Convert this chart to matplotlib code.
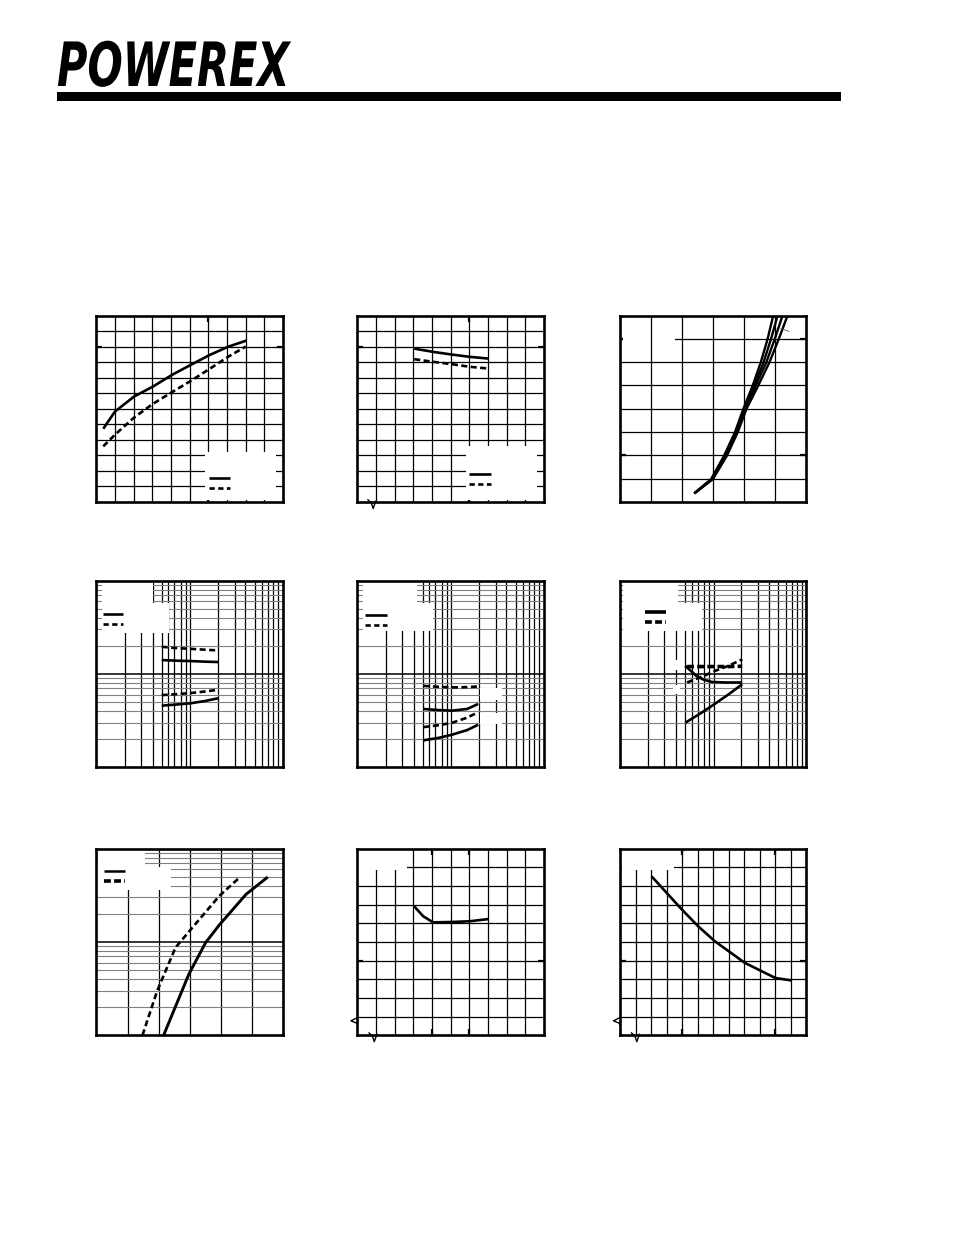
import matplotlib.pyplot as plt
from matplotlib.patches import Rectangle
from matplotlib.patheffects import AbstractPathEffect
from matplotlib.transforms import Affine2D

# ---- chart data (in each chart's own units) ----
# chart 1 (linear, 10 x 12 grid)
c1_x_solid = [0.36, 0.99, 2.02, 3.03, 4.05, 5.05, 6.07, 7.08, 8.05]
c1_y_solid = [4.71, 5.82, 6.79, 7.43, 8.18, 8.82, 9.46, 10.0, 10.39]
c1_x_dash = [0.36, 0.99, 2.02, 3.03, 4.05, 5.05, 6.07, 7.08, 8.0]
c1_y_dash = [3.58, 4.33, 5.44, 6.32, 7.07, 7.79, 8.57, 9.36, 10.0]

# chart 2 (linear, 10 x 12 grid)
c2_x = [3.04, 4.05, 5.04, 6.02, 7.0]
c2_y_solid = [9.87, 9.66, 9.49, 9.34, 9.23]
c2_y_dash = [9.19, 9.02, 8.87, 8.70, 8.59]

# chart 3 (linear, 6 x 8 grid), four forward curves
c3_y = [0.37, 0.98, 1.99, 3.0, 4.0, 5.0, 6.0, 7.0, 8.0]
c3_x_a = [2.39, 2.93, 3.35, 3.70, 3.97, 4.27, 4.53, 4.75, 4.93]
c3_x_b = [2.39, 2.95, 3.38, 3.73, 4.00, 4.32, 4.62, 4.86, 5.07]
c3_x_c = [2.39, 2.97, 3.41, 3.76, 4.03, 4.37, 4.71, 4.98, 5.23]
c3_x_d = [2.39, 2.99, 3.44, 3.79, 4.07, 4.45, 4.81, 5.11, 5.39]

# log-log charts (row 2): x from 1 to 1000, y from 0.1 to 10
logx_grid = [2.84, 5.16, 8.02, 11.2, 14.3, 17.9, 22.8, 27.4, 32.0,
             90, 166, 249, 352, 461, 574, 703, 840]
logy_minor = [0.2, 0.3, 0.4, 0.5, 0.6, 0.7, 0.8, 0.9,
              2, 3, 4, 5, 6, 7, 8, 9]

c4_x = [11.2, 18, 32, 55, 90]
c4_dash_hi = [1.957, 1.90, 1.86, 1.82, 1.787]
c4_solid_hi = [1.41, 1.39, 1.375, 1.355, 1.342]
c4_dash_lo = [0.593, 0.605, 0.623, 0.648, 0.676]
c4_solid_lo = [0.457, 0.468, 0.484, 0.512, 0.548]

c5_x = [11.5, 20, 33, 58, 87]
c5_dash_hi = [0.745, 0.728, 0.717, 0.722, 0.734]
c5_solid_hi = [0.421, 0.410, 0.404, 0.421, 0.476]
c5_dash_lo = [0.269, 0.282, 0.299, 0.340, 0.388]
c5_solid_lo = [0.194, 0.206, 0.223, 0.250, 0.285]

c6_x_fall = [11.2, 14, 17, 22, 30, 50, 92]
c6_y_fall = [1.22, 1.07, 0.95, 0.87, 0.82, 0.81, 0.81]
c6_x_rise = [11.2, 20, 30.4, 55, 92.7]
c6_y_rise = [0.299, 0.38, 0.457, 0.60, 0.777]
c6_x_dflat = [12, 20, 30, 55, 92.7]
c6_y_dflat = [1.20, 1.20, 1.20, 1.20, 1.21]
c6_x_drise = [12, 23.6, 30.4, 55, 92.7]
c6_y_drise = [0.81, 0.968, 1.05, 1.22, 1.433]

# chart 7 (linear x 0..6, log y 0.1..10)
c7_x_dash = [1.48, 1.95, 2.54, 3.08, 3.95, 4.62]
c7_y_dash = [0.1, 0.298, 0.869, 1.42, 3.11, 4.97]
c7_x_solid = [2.16, 2.97, 3.51, 3.95, 4.81, 5.51]
c7_y_solid = [0.1, 0.45, 0.983, 1.52, 3.24, 4.97]

# chart 8 (linear, 10 x 10 grid)
c8_x = [3.04, 3.52, 4.05, 5.04, 6.02, 7.04]
c8_y = [6.91, 6.38, 6.05, 6.07, 6.11, 6.23]

# chart 9 (linear, 12 x 10 grid)
c9_x = [2.03, 3.99, 5.03, 6.10, 8.03, 9.99, 11.07]
c9_y = [8.52, 6.73, 5.84, 5.04, 3.88, 3.07, 2.93]

W, H = 954, 1235
COLS = [96.5, 357.5, 620]
ROWS = [315.5, 580.7, 848.7]
SIZE = 186.5
LW = 1.9
DASH = (0, (2.3, 1.3))
LEG_DASH = (0, (2.0, 1.3))
THICK_DASH = (0, (1.9, 0.9))


class Squeeze(AbstractPathEffect):
    """squeeze text horizontally around a fixed display x (narrow logo)"""

    def __init__(self, sx, x0):
        super().__init__()
        self.sx = sx
        self.x0 = x0

    def draw_path(self, renderer, gc, tpath, affine, rgbFace=None):
        squeeze = Affine2D().translate(-self.x0, 0).scale(self.sx, 1).translate(self.x0, 0)
        renderer.draw_path(gc, tpath, affine + squeeze, rgbFace)


def make_axes(fig, col, row):
    left = COLS[col] / W
    bottom = 1 - (ROWS[row] + SIZE) / H
    ax = fig.add_axes([left, bottom, SIZE / W, SIZE / H])
    for s in ax.spines.values():
        s.set_linewidth(1.9)
        s.set_zorder(6)
    ax.set_xticks([])
    ax.set_yticks([])
    return ax


def lin_grid(ax, nx, ny, xticks=(), yticks=(), vz=1):
    ax.set_xlim(0, nx)
    ax.set_ylim(0, ny)
    for i in range(1, nx):
        ax.axvline(i, color='black', lw=0.9, zorder=vz)
    for j in range(1, ny):
        ax.axhline(j, color='black', lw=0.9, zorder=1)
    ax.set_xticks(list(xticks))
    ax.set_yticks(list(yticks))
    ax.tick_params(direction='in', length=4, width=1.6, top=True, right=True,
                   labelbottom=False, labelleft=False)


def log_y_grid(ax):
    ax.set_yscale('log')
    ax.set_ylim(0.1, 10)
    ax.axhline(1, color='black', lw=1.1, zorder=1)
    for v in logy_minor:
        ax.axhline(v, color='#808080', lw=0.8, zorder=1)
    ax.set_yticks([])
    ax.set_yticks([], minor=True)


def log_x_grid(ax):
    ax.set_xscale('log')
    ax.set_xlim(1, 1000)
    for v in logx_grid:
        ax.axvline(v, color='black', lw=0.9, zorder=1)
    ax.set_xticks([])
    ax.set_xticks([], minor=True)


def white_box(ax, x0, x1, y0, y1):
    ax.add_patch(Rectangle((x0, y0), x1 - x0, y1 - y0, transform=ax.transAxes,
                           facecolor='white', edgecolor='none', zorder=2))


def legend_lines(ax, x0, x1, y_solid, y_dash, lw=LW, dash=LEG_DASH):
    ax.plot([x0, x1], [y_solid, y_solid], color='black', lw=lw,
            transform=ax.transAxes, zorder=4, solid_capstyle='butt')
    ax.plot([x0, x1], [y_dash, y_dash], color='black', lw=lw, ls=dash,
            transform=ax.transAxes, zorder=4, dash_capstyle='butt')


def break_bottom(ax, x0):
    xs = [x0, x0 + 0.018, x0 + 0.028, x0 + 0.042]
    ys = [0.012, -0.005, -0.035, 0.005]
    ax.plot(xs, ys, color='black', lw=1.0, transform=ax.transAxes,
            clip_on=False, zorder=7)


def break_left(ax, y0):
    xs = [0.0, -0.035, -0.005, 0.0]
    ys = [y0 + 0.03, y0 + 0.012, y0 + 0.0, y0 - 0.01]
    ax.plot(xs, ys, color='black', lw=1.0, transform=ax.transAxes,
            clip_on=False, zorder=7)


def curve(ax, x, y, dashed=False, lw=LW, dash=DASH):
    ax.plot(x, y, color='black', lw=lw, ls=dash if dashed else '-',
            zorder=3, solid_capstyle='butt', dash_capstyle='butt')


def main():
    fig = plt.figure(figsize=(W / 100, H / 100), dpi=100)

    # header: logo and black rule
    fig.text(57 / W, 1 - 86 / H, 'POWEREX', fontsize=44, fontweight='heavy',
             style='italic', family=['DejaVu Sans'], va='baseline', ha='left',
             path_effects=[Squeeze(0.68, 57)])
    fig.patches.append(Rectangle((57 / W, 1 - 101 / H), (841 - 57) / W, 9 / H,
                                 transform=fig.transFigure, facecolor='black',
                                 edgecolor='none'))

    # chart 1
    ax = make_axes(fig, 0, 0)
    lin_grid(ax, 10, 12, xticks=[6], yticks=[10])
    white_box(ax, 0.58, 0.965, 0.01, 0.27)
    legend_lines(ax, 0.603, 0.716, 0.13, 0.077)
    curve(ax, c1_x_solid, c1_y_solid)
    curve(ax, c1_x_dash, c1_y_dash, dashed=True)

    # chart 2
    ax = make_axes(fig, 1, 0)
    lin_grid(ax, 10, 12, xticks=[6], yticks=[10])
    white_box(ax, 0.58, 0.965, 0.01, 0.30)
    legend_lines(ax, 0.598, 0.714, 0.15, 0.096)
    curve(ax, c2_x, c2_y_solid)
    curve(ax, c2_x, c2_y_dash, dashed=True)
    break_bottom(ax, 0.056)

    # chart 3
    ax = make_axes(fig, 2, 0)
    lin_grid(ax, 6, 8, yticks=[2, 7], vz=2.5)
    white_box(ax, 0.018, 0.295, 0.85, 0.99)
    for xs in (c3_x_a, c3_x_b, c3_x_c, c3_x_d):
        curve(ax, xs, c3_y, lw=1.7)
    ax.annotate('', xy=(5.09, 7.48), xytext=(5.52, 7.28),
                arrowprops=dict(arrowstyle='-', lw=0.6, color='#555555'))

    # chart 4
    ax = make_axes(fig, 0, 1)
    log_x_grid(ax)
    log_y_grid(ax)
    white_box(ax, 0.027, 0.304, 0.883, 0.995)
    white_box(ax, 0.027, 0.39, 0.72, 0.883)
    legend_lines(ax, 0.036, 0.143, 0.82, 0.766)
    curve(ax, c4_x, c4_dash_hi, dashed=True)
    curve(ax, c4_x, c4_solid_hi)
    curve(ax, c4_x, c4_dash_lo, dashed=True)
    curve(ax, c4_x, c4_solid_lo)

    # chart 5
    ax = make_axes(fig, 1, 1)
    log_x_grid(ax)
    log_y_grid(ax)
    white_box(ax, 0.031, 0.317, 0.883, 0.995)
    white_box(ax, 0.031, 0.406, 0.73, 0.883)
    white_box(ax, 0.657, 0.775, 0.36, 0.425)
    white_box(ax, 0.657, 0.775, 0.231, 0.29)
    legend_lines(ax, 0.04, 0.157, 0.815, 0.762)
    curve(ax, c5_x, c5_dash_hi, dashed=True)
    curve(ax, c5_x, c5_solid_hi)
    curve(ax, c5_x, c5_dash_lo, dashed=True)
    curve(ax, c5_x, c5_solid_lo)

    # chart 6
    ax = make_axes(fig, 2, 1)
    log_x_grid(ax)
    log_y_grid(ax)
    white_box(ax, 0.018, 0.313, 0.883, 0.995)
    white_box(ax, 0.018, 0.437, 0.73, 0.883)
    white_box(ax, 0.286, 0.322, 0.521, 0.575)
    white_box(ax, 0.286, 0.322, 0.395, 0.44)
    legend_lines(ax, 0.134, 0.249, 0.83, 0.777, lw=2.6, dash=THICK_DASH)
    curve(ax, c6_x_fall, c6_y_fall)
    curve(ax, c6_x_rise, c6_y_rise)
    curve(ax, c6_x_dflat, c6_y_dflat, dashed=True, lw=2.6, dash=THICK_DASH)
    curve(ax, c6_x_drise, c6_y_drise, dashed=True)

    # chart 7
    ax = make_axes(fig, 0, 2)
    ax.set_xlim(0, 6)
    for i in range(1, 6):
        ax.axvline(i, color='black', lw=0.9, zorder=1)
    log_y_grid(ax)
    white_box(ax, 0.01, 0.26, 0.9, 0.993)
    white_box(ax, 0.01, 0.40, 0.78, 0.9)
    ax.plot([0.04, 0.153], [0.88, 0.88], color='black', lw=1.8,
            transform=ax.transAxes, zorder=4, solid_capstyle='butt')
    ax.plot([0.04, 0.153], [0.827, 0.827], color='black', lw=2.6, ls=THICK_DASH,
            transform=ax.transAxes, zorder=4, dash_capstyle='butt')
    curve(ax, c7_x_dash, c7_y_dash, dashed=True)
    curve(ax, c7_x_solid, c7_y_solid, lw=2.1)

    # chart 8
    ax = make_axes(fig, 1, 2)
    lin_grid(ax, 10, 10, xticks=[4, 6], yticks=[4])
    white_box(ax, 0.004, 0.264, 0.885, 0.995)
    curve(ax, c8_x, c8_y)
    break_left(ax, 0.065)
    break_bottom(ax, 0.062)

    # chart 9
    ax = make_axes(fig, 2, 2)
    lin_grid(ax, 12, 10, xticks=[4, 10], yticks=[4])
    white_box(ax, 0.01, 0.287, 0.885, 0.995)
    curve(ax, c9_x, c9_y)
    break_left(ax, 0.065)
    break_bottom(ax, 0.062)

    fig.savefig('out.png', dpi=100)


if __name__ == "__main__":
    main()
